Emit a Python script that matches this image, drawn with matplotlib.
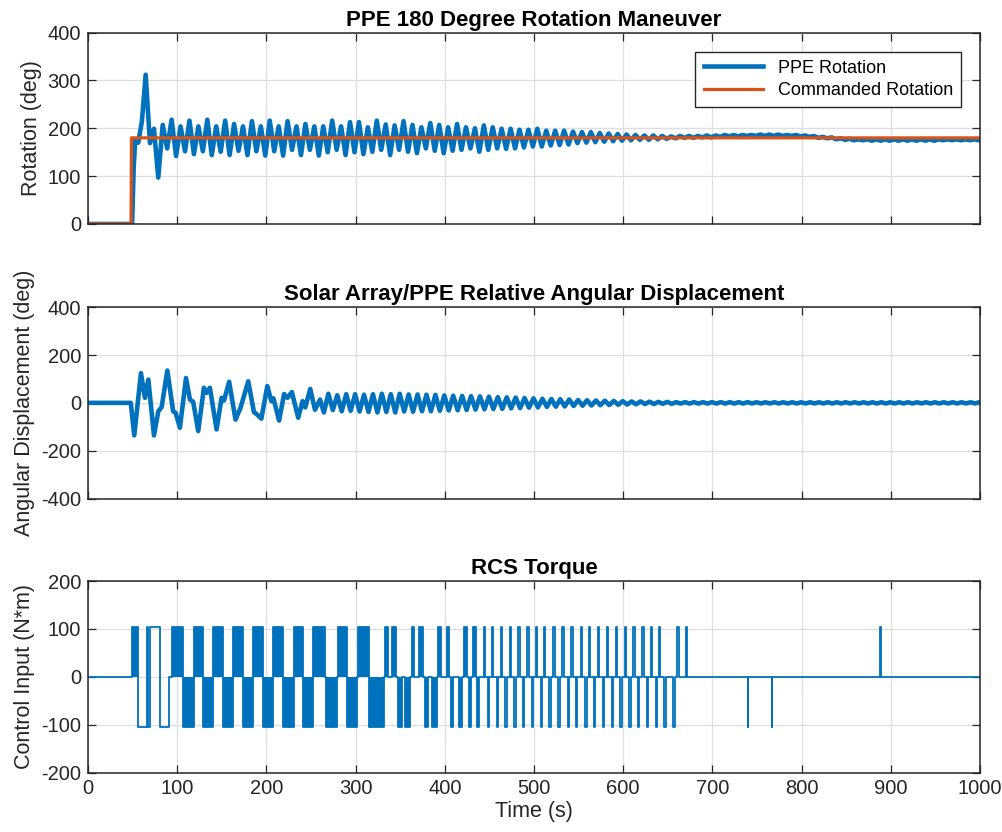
import numpy as np
import matplotlib
from matplotlib import pyplot as plt

matplotlib.use("Agg")

BLUE = "#0072BD"
ORANGE = "#D95319"
DARK = "#262626"

plt.rcParams["font.family"] = ["Liberation Sans", "DejaVu Sans"]
plt.rcParams["axes.unicode_minus"] = False

t_end = 1000

# --- PPE rotation (deg) ---
cmd_t = [0, 48.3, 48.8, 1000]
cmd_v = [0, 0, 180, 180]

rot_early_t = [0, 49.5, 51.3, 53.0, 56.4, 60.5, 64.7, 69.5, 74.0]
rot_early_v = [0, 0, 120, 176, 170, 215, 312, 169, 199]

# extremes every half period (5 s) starting at t0
rot_t0 = 78.8
rot_extrema = [
    97, 207, 158, 218, 142, 204, 152, 216, 146, 204,
    152, 218, 144, 204, 151, 216, 144, 209, 153, 204,
    144, 215, 152, 204, 143, 216, 152, 204, 143, 215,
    155, 204, 144, 209, 155, 204, 143, 204, 150, 216,
    155, 204, 144, 213, 150, 213, 146, 202, 151, 216,
    155, 208, 144, 206, 155, 215, 151, 207, 148, 202,
    158, 211, 153, 207, 148, 202, 153, 209, 155, 202,
    158, 200, 151, 206, 155, 202, 158, 199, 157, 199,
    158, 197, 160, 197, 162, 199, 162, 195, 164, 195,
    165, 195, 166, 193, 169, 192, 170, 192, 171, 190,
    172, 189, 173, 188, 174, 187, 175, 186, 176, 185,
    176, 185, 177, 184, 178, 183,
    179, 184, 180, 184, 180, 184, 181, 185, 181, 185,
    182, 186, 183, 186, 183, 186, 184, 186, 184, 187,
    184, 187, 184, 187, 184, 186, 184, 186, 183, 185,
    182, 184, 180, 182, 179, 181, 177, 179, 176, 178,
    175, 177, 175, 177, 174, 177, 174, 177, 174, 177,
    174, 177, 174, 177, 174, 177, 174, 177, 174, 177,
    175, 177, 175, 177, 175, 177, 175, 177, 175,
]

# --- Solar array / PPE relative angular displacement (deg) ---
rel_early_t = [0, 48, 51.9, 55.5, 59.4, 63.9, 67.7, 74.0, 78.9, 82.6,
               89.0, 95.5, 98.3, 103.1, 109.9, 114.3, 118.0, 123.6, 130.0, 133.0,
               136.7, 144.2, 149.8, 152.5, 158.3, 165.4, 171.0, 179.7, 186.1, 189.1,
               194.4, 201.1, 205.6, 207.9, 214.3, 219.9, 223.7, 228.6, 235.7, 240.6,
               243.6, 249.2, 254.5, 260.2]
rel_early_v = [0, 0, -136, -10, 124, 21, 97, -136, -35, -18,
               135, -35, -42, -104, 104, 14, 4, -118, 63, 42,
               63, -111, 21, 10, 88, -70, -21, 90, -39, -47,
               -66, 70, 7, 19, -74, 37, 21, 45, -62, 7,
               -19, 58, -29, 14]

rel_t0 = 264.5
rel_extrema = [
    -40, 38, -30, 32, -35, 36, -33, 36, -36, 34,
    -38, 36, -40, 38, -38, 36, -40, 38, -36, 35,
    -37, 35, -35, 34, -35, 33, -33, 31, -32, 30,
    -31, 29, -30, 28, -28, 27, -27, 26, -26, 24,
    -25, 23, -23, 22, -22, 20, -20, 19, -19, 17,
    -17, 16, -16, 15, -15, 14, -13, 12, -12, 11,
    -11, 10, -10, 9, -9, 8, -8, 7, -7, 6,
    -6, 6, -5, 5, -5, 4, -4, 4, -4, 3,
    -3, 3, -3, 3, -3, 3, -3, 3, -3, 3,
    -3, 3, -3, 3, -3, 3, -2.5, 2.5, -2.5, 2.5,
    -2.5, 2.5, -2.5, 2.5, -2.5, 2.5, -2.5, 2.5, -2.5, 2.5,
    -2.5, 2.5, -2.5, 2.5, -2.5, 2.5, -2.5, 2.5, -2.5, 2.5,
    -2.5, 2.5, -2.5, 2.5, -2.5, 2.5, -2.5, 2.5, -2.5, 2.5,
    -2.5, 2.5, -2.5, 2.5, -2.5, 2.5, -2.5, 2.5, -2.5, 2.5,
    -2.5, 2.5, -2.5, 2.5, -2.5, 2.5, -2.5, 2.5,
]

# --- RCS torque (N*m) ---
torque_level = 105
# dense chattering firing windows: start, end, sign
burst_start = [49.7, 93.8, 106.0, 118.5, 129.0, 140.5, 151.5, 163.0, 174.2, 185.4,
               196.6, 208.0, 219.0, 230.5, 241.5, 252.6, 266.8, 280.6, 290.0, 303.0,
               315.5, 333.0, 340.4, 348.0, 355.3, 362.8, 371.4, 377.8, 386.0, 392.7,
               402.0, 406.6, 416.3, 421.8, 427.0, 431.9, 435.6]
burst_end = [55.7, 106.0, 118.5, 129.0, 140.5, 151.5, 163.0, 174.2, 185.4, 196.6,
             208.0, 219.0, 230.5, 241.0, 252.6, 265.7, 279.5, 290.0, 302.0, 315.0,
             331.5, 336.6, 345.3, 351.6, 361.0, 365.8, 375.9, 381.5, 391.0, 395.7,
             405.0, 409.5, 419.3, 425.2, 429.7, 434.9, 438.6]
burst_sign = [1, 1, -1, 1, -1, 1, -1, 1, -1, 1,
              -1, 1, -1, 1, -1, 1, -1, 1, -1, 1,
              -1, 1, 1, -1, -1, 1, 1, -1, -1, 1,
              1, -1, -1, 1, -1, 1, -1]
# held firings right after the command step
held_start = [55.7, 66.0, 67.5, 69.5, 81.0]
held_end = [66.0, 67.5, 69.5, 81.0, 90.5]
held_sign = [-1, 1, -1, 1, -1]
# single short pulses later in the maneuver
pulse_t = [443.9, 448.0, 452.7, 458.5, 462.6, 467.9, 473.1, 477.9, 482.4, 487.2,
           492.5, 497.7, 501.9, 507.8, 511.2, 517.2, 521.7, 527.3, 531.8, 537.7,
           541.9, 547.0, 552.4, 557.5, 561.7, 566.8, 571.8, 576.9, 581.5, 587.3,
           591.6, 596.7, 601.7, 606.8, 611.4, 616.5, 621.5, 626.6, 630.8, 636.7,
           640.2, 646.0, 656.1, 660.7, 670.0]
pulse_sign = [1, -1, 1, -1, 1, -1, 1, -1, 1, -1,
              1, -1, 1, -1, 1, -1, 1, -1, 1, -1,
              1, -1, 1, -1, 1, -1, 1, -1, 1, -1,
              1, -1, 1, -1, 1, -1, 1, -1, 1, -1,
              1, -1, -1, 1, 1]
pulse_width = 1.6
spike_t = [739.5, 766.4, 888.3]
spike_sign = [-1, -1, 1]
spike_width = 0.4


def extrema_series(early_t, early_v, t0, extrema):
    t = np.concatenate([early_t, t0 + 5.0 * np.arange(len(extrema))])
    v = np.concatenate([early_v, extrema])
    return t, v


def torque_series():
    events = []
    for s, e, g in zip(burst_start, burst_end, burst_sign):
        events.append((s, e, g * torque_level))
    for s, e, g in zip(held_start, held_end, held_sign):
        events.append((s, e, g * torque_level))
    for p, g in zip(pulse_t, pulse_sign):
        events.append((p, p + pulse_width, g * torque_level))
    for p, g in zip(spike_t, spike_sign):
        events.append((p, p + spike_width, g * torque_level))
    events.sort()
    t, u = [0.0], [0.0]
    for s, e, lev in events:
        t += [s, s, e, e]
        u += [0, lev, lev, 0]
    t.append(t_end)
    u.append(0.0)
    return np.array(t), np.array(u)


def style_axes(ax, ylim, yticks, title, ylabel, show_x=False):
    ax.set_xlim(0, t_end)
    ax.set_ylim(*ylim)
    ax.set_xticks(range(0, 1001, 100))
    ax.set_yticks(yticks)
    if not show_x:
        ax.set_xticklabels([])
    ax.grid(True, color="#dedede", linewidth=0.9)
    ax.set_axisbelow(True)
    ax.tick_params(direction="in", top=True, right=True, length=6, width=0.9,
                   colors=DARK, labelsize=14.5, labelcolor=DARK, pad=5)
    for s in ax.spines.values():
        s.set_color(DARK)
        s.set_linewidth(1.1)
    ax.set_title(title, fontweight="bold", fontsize=16, pad=5)
    ax.set_ylabel(ylabel, fontsize=15.5, color=DARK, labelpad=4)


fig = plt.figure(figsize=(10.03, 8.32), dpi=100)
left, width, height = 0.0877, 0.8893, 0.2300
ax1 = fig.add_axes([left, 0.7308, width, height])
ax2 = fig.add_axes([left, 0.4008, width, height])
ax3 = fig.add_axes([left, 0.0715, width, height])

# panel 1
rt, rv = extrema_series(rot_early_t, rot_early_v, rot_t0, rot_extrema)
ax1.plot(rt, rv, color=BLUE, linewidth=3.3, label="PPE Rotation", solid_joinstyle="round")
ax1.plot(cmd_t, cmd_v, color=ORANGE, linewidth=2.3, label="Commanded Rotation")
style_axes(ax1, (0, 400), range(0, 401, 100), "PPE 180 Degree Rotation Maneuver", "Rotation (deg)")
leg = ax1.legend(loc="upper right", fontsize=13, fancybox=False, framealpha=1,
                 edgecolor=DARK, borderaxespad=1.05, handlelength=3.3, borderpad=0.45,
                 labelspacing=0.3)
leg.get_frame().set_linewidth(1.0)

# panel 2
dt, dv = extrema_series(rel_early_t, rel_early_v, rel_t0, rel_extrema)
ax2.plot(dt, dv, color=BLUE, linewidth=3.3, solid_joinstyle="round")
style_axes(ax2, (-400, 400), range(-400, 401, 200),
           "Solar Array/PPE Relative Angular Displacement", "Angular Displacement (deg)")

# panel 3
tt, tu = torque_series()
for s, e, g in zip(burst_start, burst_end, burst_sign):
    ax3.fill_between([s, e], 0, g * torque_level, color=BLUE, linewidth=0)
ax3.plot(tt, tu, color=BLUE, linewidth=1.3)
style_axes(ax3, (-200, 200), range(-200, 201, 100), "RCS Torque", "Control Input (N*m)", show_x=True)
ax3.set_xlabel("Time (s)", fontsize=15.5, color=DARK, labelpad=2)

fig.savefig("out.png", dpi=100)
